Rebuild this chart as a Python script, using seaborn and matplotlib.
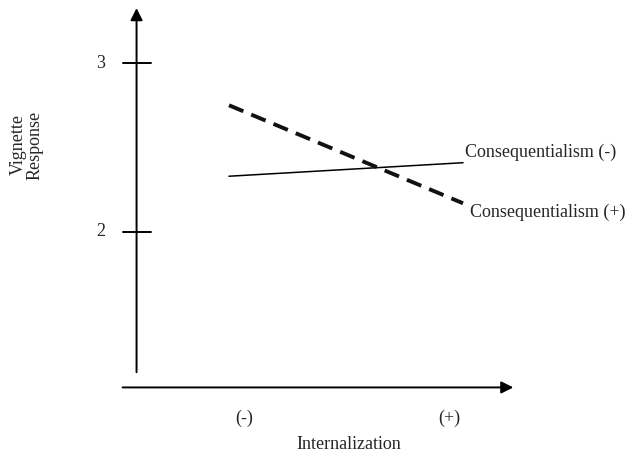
import pandas as pd
import matplotlib
matplotlib.use("Agg")
import matplotlib.pyplot as plt
import seaborn as sns

# ======================================================
#   data
# ======================================================
internalization = [-1.0, 1.0]          # low / high internalization
conseq_minus = [2.33, 2.41]            # Consequentialism (-), solid
conseq_plus = [2.75, 2.17]             # Consequentialism (+), dashed
y_ticks = [2, 3]
x_tick_labels = ["(-)", "(+)"]
series_labels = ["Consequentialism (-)", "Consequentialism (+)"]

df = pd.DataFrame({
    "Internalization": internalization * 2,
    "Vignette Response": conseq_minus + conseq_plus,
    "group": [series_labels[0]] * 2 + [series_labels[1]] * 2,
})

sns.set_theme(style="white")
plt.rcParams["font.family"] = ["Liberation Serif", "DejaVu Serif"]
FS = 13

fig = plt.figure(figsize=(6.28, 4.54), dpi=100)
ax = fig.add_axes([0, 0, 1, 1])
ax.set_xlim(-2.957, 2.41)
ax.set_ylim(0.686, 3.373)
ax.axis("off")

# ======================================================
#   hand-drawn looking axes
# ======================================================
x_axis_y = 1.08
y_axis_x = -1.79
ax.annotate("", xy=(1.43, x_axis_y), xytext=(-1.91, x_axis_y),
            arrowprops=dict(arrowstyle="-|>", color="black", lw=1.4,
                            mutation_scale=18, shrinkA=0, shrinkB=0))
ax.annotate("", xy=(y_axis_x, 3.325), xytext=(y_axis_x, 1.17),
            arrowprops=dict(arrowstyle="-|>", color="black", lw=1.4,
                            mutation_scale=18, shrinkA=0, shrinkB=0))

for t in y_ticks:
    ax.plot([-1.91, -1.67], [t, t], color="black", lw=1.4)
    ax.text(-2.10, t, str(t), ha="center", va="center", fontsize=FS)

for xt, lab in zip([-0.87, 0.88], x_tick_labels):
    ax.text(xt, 0.895, lab, ha="center", va="center", fontsize=FS)

ax.text(0.02, 0.74, "Internalization", ha="center", va="center", fontsize=FS)
ax.text(-2.73, 2.515, "Vignette\nResponse", ha="center", va="center",
        rotation=90, fontsize=FS, linespacing=1.0)

# ======================================================
#   lines
# ======================================================
sns.lineplot(data=df, x="Internalization", y="Vignette Response",
             style="group", hue="group",
             palette={series_labels[0]: "black", series_labels[1]: "#111111"},
             dashes={series_labels[0]: "", series_labels[1]: (4, 2.2)},
             size="group",
             sizes={series_labels[0]: 1.1, series_labels[1]: 2.8},
             legend=False, ax=ax)

ax.text(1.02, 2.47, series_labels[0], ha="left", va="center", fontsize=FS)
ax.text(1.06, 2.115, series_labels[1], ha="left", va="center", fontsize=FS)

ax.set_xlim(-2.957, 2.41)
ax.set_ylim(0.686, 3.373)
fig.savefig("out.png", dpi=100)
